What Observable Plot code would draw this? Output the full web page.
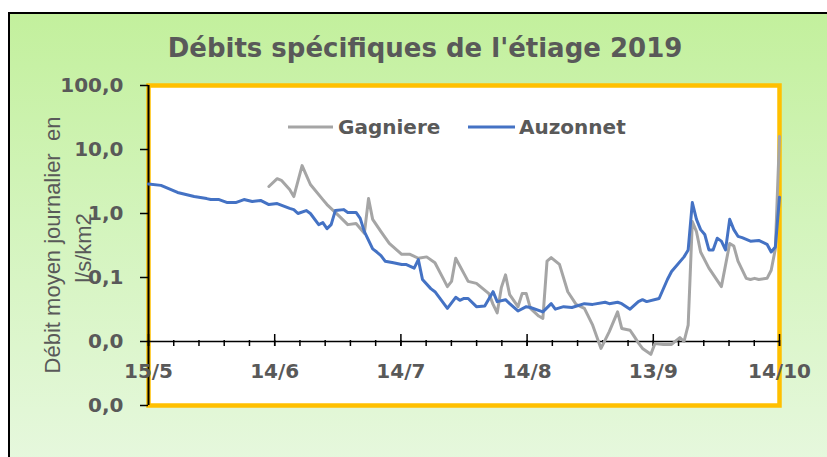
<!DOCTYPE html>
<html><head><meta charset="utf-8">
<script src="https://cdn.jsdelivr.net/npm/d3@7"></script>
<script src="https://cdn.jsdelivr.net/npm/@observablehq/plot@0.6"></script>
<style>
html,body{margin:0;padding:0;background:#fff;}
#wrap{position:relative;width:827px;height:457px;overflow:hidden;}
#bg{position:absolute;left:8px;top:12px;width:830px;height:460px;border-left:2px solid #000;border-top:2px solid #000;background:linear-gradient(180deg,#c3f09d 0%,#d3f4bc 45%,#e7f8df 100%);}
#chart{position:absolute;left:0;top:0;}
#overlay{position:absolute;left:0;top:0;pointer-events:none;}
</style></head><body>
<div id="wrap"><div id="bg"></div><div id="chart"></div>
<svg id="overlay" width="827" height="457">
  <text x="425" y="57" text-anchor="middle" font-family="DejaVu Sans" font-weight="bold" font-size="26" fill="#595959">Débits spécifiques de l'étiage 2019</text>
  <g font-family="Liberation Sans" font-size="22" fill="#595959">
    <text transform="translate(60,245) rotate(-90)" text-anchor="middle" style="white-space:pre">Débit moyen journalier  en</text>
    <text transform="translate(91,248) rotate(-90)" text-anchor="middle">l/s/km2</text>
  </g>
  <line x1="288" x2="333" y1="127" y2="127" stroke="#A5A5A5" stroke-width="3"/>
  <text x="338" y="134" font-family="DejaVu Sans" font-weight="bold" font-size="20" fill="#595959">Gagniere</text>
  <line x1="468" x2="515" y1="127" y2="127" stroke="#4472C4" stroke-width="3"/>
  <text x="519" y="134" font-family="DejaVu Sans" font-weight="bold" font-size="20" fill="#595959">Auzonnet</text>
</svg>
</div>
<script>
// ---- data (l/s/km2), dates as day/month of 2019 ----
const auzonnet = [
["15/5",2.9],["18/5",2.75],["22/5",2.13],["24/5",1.98],["26/5",1.84],["29/5",1.71],["30/5",1.65],
["1/6",1.65],["3/6",1.48],["5/6",1.48],["7/6",1.65],["9/6",1.54],["11/6",1.60],["13/6",1.38],["15/6",1.43],
["18/6",1.20],["19/6",1.15],["20/6",1.0],["22/6",1.11],["23/6",1.0],["25/6",0.67],["26/6",0.72],["27/6",0.58],
["28/6",0.67],["29/6",1.11],["1/7",1.15],["2/7",1.04],["4/7",1.04],["5/7",0.84],["6/7",0.52],["8/7",0.28],
["9/7",0.25],["10/7",0.22],["11/7",0.18],["13/7",0.17],["15/7",0.16],["16/7",0.16],["18/7",0.14],["19/7",0.19],
["20/7",0.093],["22/7",0.067],["23/7",0.060],["26/7",0.033],["28/7",0.049],["29/7",0.044],["30/7",0.047],
["31/7",0.047],["2/8",0.035],["4/8",0.036],["6/8",0.060],["7/8",0.042],["9/8",0.045],["10/8",0.039],
["12/8",0.030],["14/8",0.035],["15/8",0.034],["18/8",0.029],["20/8",0.039],["21/8",0.032],["23/8",0.035],
["25/8",0.034],["28/8",0.039],["30/8",0.038],["2/9",0.041],["3/9",0.039],["5/9",0.041],["6/9",0.039],
["8/9",0.032],["10/9",0.042],["11/9",0.045],["12/9",0.042],["15/9",0.047],["17/9",0.093],["18/9",0.124],
["21/9",0.21],["22/9",0.27],["23/9",1.48],["24/9",0.81],["25/9",0.56],["26/9",0.47],["27/9",0.27],
["28/9",0.27],["29/9",0.41],["30/9",0.37],["1/10",0.27],["2/10",0.81],["3/10",0.56],["4/10",0.44],
["5/10",0.42],["7/10",0.37],["9/10",0.38],["11/10",0.33],["12/10",0.25],["13/10",0.30],["14/10",1.8]
];
const gagniere = [
["13/6",2.64],["15/6",3.5],["16/6",3.3],["18/6",2.37],["19/6",1.84],["21/6",5.6],["23/6",2.84],["26/6",1.65],
["27/6",1.38],["30/6",0.90],["2/7",0.67],["4/7",0.70],["6/7",0.49],["7/7",1.71],["8/7",0.81],["10/7",0.52],
["12/7",0.34],["15/7",0.23],["17/7",0.23],["19/7",0.20],["21/7",0.21],["23/7",0.17],["25/7",0.096],
["26/7",0.072],["27/7",0.087],["28/7",0.20],["30/7",0.115],["31/7",0.087],["2/8",0.081],["5/8",0.056],
["6/8",0.038],["7/8",0.028],["8/8",0.07],["9/8",0.11],["10/8",0.054],["12/8",0.035],["13/8",0.056],
["14/8",0.056],["15/8",0.033],["17/8",0.025],["18/8",0.023],["19/8",0.18],["20/8",0.205],["22/8",0.16],
["24/8",0.060],["26/8",0.038],["28/8",0.033],["30/8",0.018],["1/9",0.0078],["3/9",0.0143],["5/9",0.029],
["6/9",0.016],["8/9",0.015],["9/9",0.012],["10/9",0.0095],["11/9",0.0078],["13/9",0.0063],["14/9",0.0093],
["16/9",0.009],["18/9",0.009],["20/9",0.0115],["21/9",0.010],["22/9",0.018],["23/9",0.75],["24/9",0.52],
["25/9",0.25],["27/9",0.14],["30/9",0.072],["2/10",0.34],["3/10",0.31],["4/10",0.18],["6/10",0.097],
["7/10",0.093],["8/10",0.097],["9/10",0.093],["11/10",0.097],["12/10",0.13],["13/10",0.28],["14/10",16]
];
const xTickLabels = ["15/5","14/6","14/7","14/8","13/9","14/10"];
const yTicks = [100,10,1,0.1,0.01,0.001];
const yTickLabels = ["100,0","10,0","1,0","0,1","0,0","0,0"];
// axis settings (as in the spreadsheet): span, major and minor units in days, crossing value
const axisStart = "15/5", axisDays = 152, majorUnitDays = 30.4, minorUnitDays = 6.08, xCross = 0.01;

const DAY = 864e5;
const parse = s => { const [d,m] = s.split("/").map(Number); return new Date(Date.UTC(2019, m-1, d)); };
const toRows = arr => arr.map(([d,v]) => ({date: parse(d), value: v}));
const start = parse(axisStart);
const end = new Date(+start + axisDays*DAY);
const majorTicks = xTickLabels.map((_, i) => new Date(+start + i*majorUnitDays*DAY));
const minorTicks = d3.range(0, Math.round(axisDays/minorUnitDays)+1).map(i => new Date(+start + i*minorUnitDays*DAY));
const xLab = new Map(majorTicks.map((t,i) => [+t, xTickLabels[i]]));
const yLab = new Map(yTicks.map((t,i) => [t, yTickLabels[i]]));

const chart = Plot.plot({
  width: 827, height: 457,
  marginLeft: 148, marginRight: 48, marginTop: 85, marginBottom: 52,
  x: {type: "utc", domain: [start, end]},
  y: {type: "log", domain: [0.001, 100]},
  style: {background: "transparent", fontFamily: "DejaVu Sans", fontSize: "20px", fontWeight: "bold", color: "#595959"},
  marks: [
    Plot.frame({fill: "white", stroke: "#FFC000", strokeWidth: 4.5}),
    Plot.ruleY([xCross], {stroke: "black", strokeWidth: 1.5}),
    Plot.ruleX([start], {stroke: "black", strokeWidth: 2}),
    Plot.axisY({ticks: yTicks, tickFormat: d => yLab.get(d), tickSize: 8, tickPadding: 17,
      stroke: "black", strokeWidth: 1.5, strokeOpacity: 1, fill: "#595959", fontWeight: "bold", fontSize: 20, label: null}),
    Plot.axisX({ticks: minorTicks, tickSize: 6, dy: -65, tickFormat: () => "", stroke: "black", strokeWidth: 1.5, strokeOpacity: 1, label: null}),
    Plot.axisX({ticks: majorTicks, tickSize: 12, dy: -71, tickPadding: 17, tickFormat: d => xLab.get(+d),
      stroke: "black", strokeWidth: 1.5, strokeOpacity: 1, fill: "#595959", fontWeight: "bold", fontSize: 20, label: null}),
    Plot.line(toRows(gagniere), {x: "date", y: "value", stroke: "#A5A5A5", strokeWidth: 3, strokeLinejoin: "round"}),
    Plot.line(toRows(auzonnet), {x: "date", y: "value", stroke: "#4472C4", strokeWidth: 3, strokeLinejoin: "round"})
  ]
});
document.getElementById("chart").appendChild(chart);
</script>
</body></html>
